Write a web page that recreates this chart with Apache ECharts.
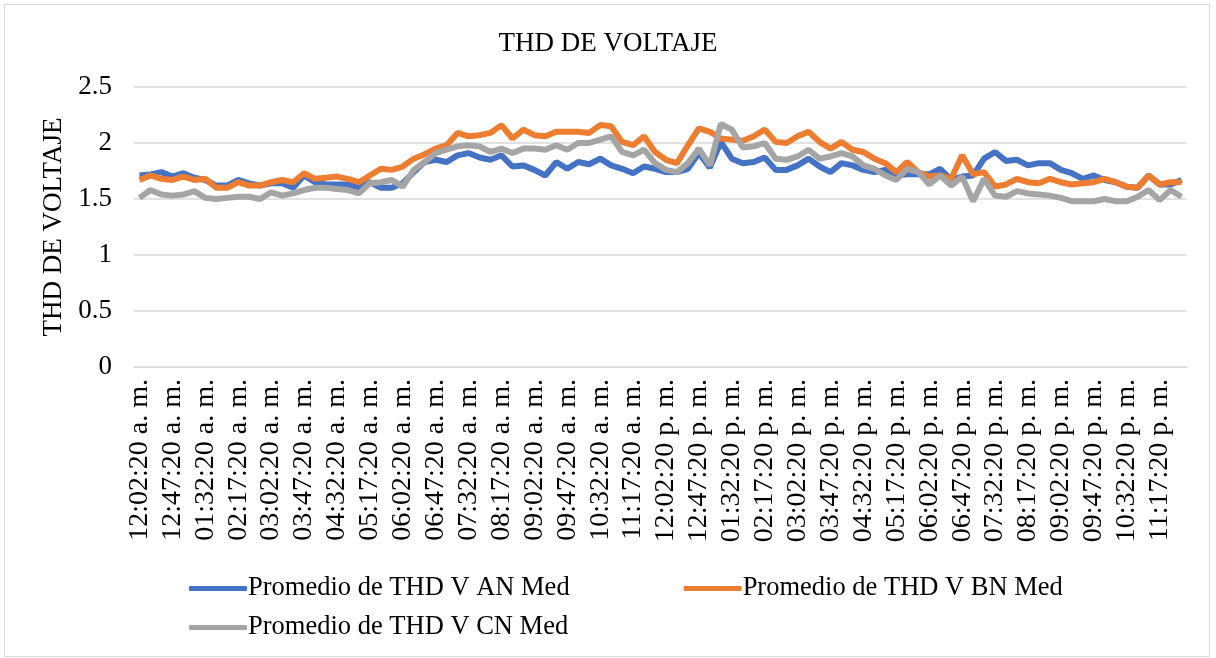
<!DOCTYPE html>
<html>
<head>
<meta charset="utf-8">
<title>THD DE VOLTAJE</title>
<script src="https://cdn.jsdelivr.net/npm/echarts@6/dist/echarts.min.js"></script>
<style>
  html, body { margin: 0; padding: 0; background: #fff; }
  #frame {
    position: absolute; left: 4px; top: 4px; width: 1204px; height: 651px;
    border: 1px solid #d9d9d9;
  }
  #chart { position: absolute; left: 0; top: 0; width: 1216px; height: 658px; }
</style>
</head>
<body>
<div id="frame"></div>
<div id="chart"></div>
<script>
// one reading every 15 minutes, starting 12:02:20 a. m.
const startMinutes = 2;
const stepMinutes = 15;
const pointCount = 96;

const seriesNames = [
  'Promedio de THD V AN Med',
  'Promedio de THD V BN Med',
  'Promedio de THD V CN Med'
];

const yTicks = [0, 0.5, 1, 1.5, 2, 2.5];

const thdAN = [
  1.71, 1.72, 1.74, 1.70, 1.73, 1.69, 1.67, 1.62, 1.62, 1.67, 1.64, 1.62, 1.64, 1.64, 1.60, 1.71, 1.65, 1.63, 1.63,
  1.63, 1.60, 1.65, 1.60, 1.60, 1.64, 1.74, 1.83, 1.85, 1.83, 1.89, 1.91, 1.87, 1.85, 1.89, 1.79, 1.80, 1.76, 1.71,
  1.83, 1.77, 1.83, 1.81, 1.86, 1.80, 1.77, 1.73, 1.79, 1.77, 1.74, 1.74, 1.77, 1.91, 1.78, 2.01, 1.86, 1.82, 1.83,
  1.87, 1.76, 1.76, 1.80, 1.86, 1.79, 1.74, 1.82, 1.80, 1.76, 1.74, 1.76, 1.71, 1.72, 1.72, 1.72, 1.77, 1.67, 1.70, 1.71,
  1.86, 1.92, 1.84, 1.85, 1.80, 1.82, 1.82, 1.76, 1.73, 1.68, 1.71, 1.67, 1.65, 1.61, 1.60, 1.71, 1.63, 1.63, 1.67
];

const thdBN = [
  1.67, 1.71, 1.68, 1.67, 1.70, 1.67, 1.68, 1.60, 1.60, 1.65, 1.62, 1.62, 1.65, 1.67, 1.65, 1.73, 1.68, 1.69, 1.70,
  1.68, 1.65, 1.71, 1.77, 1.76, 1.79, 1.86, 1.90, 1.95, 1.98, 2.09, 2.06, 2.07, 2.09, 2.16, 2.04, 2.12, 2.07, 2.06,
  2.10, 2.10, 2.10, 2.09, 2.16, 2.15, 2.01, 1.98, 2.06, 1.92, 1.85, 1.82, 1.98, 2.13, 2.10, 2.04, 2.03, 2.02, 2.06,
  2.12, 2.01, 2.00, 2.06, 2.10, 2.01, 1.95, 2.01, 1.94, 1.92, 1.86, 1.82, 1.74, 1.83, 1.74, 1.70, 1.71, 1.68, 1.89, 1.72,
  1.74, 1.61, 1.63, 1.68, 1.65, 1.64, 1.68, 1.65, 1.63, 1.64, 1.65, 1.68, 1.65, 1.61, 1.60, 1.71, 1.63, 1.65, 1.65
];

const thdCN = [
  1.51, 1.58, 1.54, 1.53, 1.54, 1.57, 1.51, 1.50, 1.51, 1.52, 1.52, 1.50, 1.56, 1.53, 1.55, 1.58, 1.60, 1.60, 1.59,
  1.58, 1.55, 1.64, 1.65, 1.67, 1.61, 1.76, 1.83, 1.91, 1.94, 1.97, 1.98, 1.97, 1.92, 1.95, 1.91, 1.95, 1.95, 1.94,
  1.98, 1.94, 2.00, 2.00, 2.03, 2.06, 1.92, 1.89, 1.94, 1.82, 1.76, 1.74, 1.82, 1.95, 1.80, 2.17, 2.12, 1.96, 1.97,
  2.00, 1.86, 1.85, 1.88, 1.94, 1.86, 1.88, 1.91, 1.88, 1.80, 1.77, 1.71, 1.67, 1.77, 1.74, 1.63, 1.71, 1.62, 1.70, 1.48,
  1.68, 1.53, 1.52, 1.57, 1.55, 1.54, 1.53, 1.51, 1.48, 1.48, 1.48, 1.50, 1.48, 1.48, 1.52, 1.58, 1.49, 1.58, 1.52
];

const colors = ['#4472C4', '#ED7D31', '#A5A5A5'];

// "12:02:20 a. m." style labels
const timeLabels = [];
for (let i = 0; i < pointCount; i++) {
  const total = startMinutes + i * stepMinutes;
  const h24 = Math.floor(total / 60);
  const m = total % 60;
  let h12 = h24 % 12;
  if (h12 === 0) h12 = 12;
  const pad = (n) => String(n).padStart(2, '0');
  timeLabels.push(pad(h12) + ':' + pad(m) + ':20 ' + (h24 < 12 ? 'a. m.' : 'p. m.'));
}

const font = '"Liberation Serif", "Times New Roman", serif';
const textColor = '#000';

const chart = echarts.init(document.getElementById('chart'));

const option = {
  animation: false,
  color: colors,
  title: {
    text: 'THD DE VOLTAJE',
    left: 'center',
    top: 25,
    textStyle: { fontFamily: font, fontSize: 27, fontWeight: 'normal', color: textColor }
  },
  legend: [
    {
      data: [seriesNames[0], seriesNames[1]],
      left: 184,
      top: 570,
      itemWidth: 58,
      itemHeight: 5,
      itemGap: 114,
      icon: 'roundRect',
      textStyle: { fontFamily: font, fontSize: 26.5, color: textColor, padding: [0, 0, 0, -4] }
    },
    {
      data: [seriesNames[2]],
      left: 184,
      top: 609,
      itemWidth: 58,
      itemHeight: 5,
      icon: 'roundRect',
      textStyle: { fontFamily: font, fontSize: 26.5, color: textColor, padding: [0, 0, 0, -4] }
    }
  ],
  grid: { left: 134, right: 29, top: 87, bottom: 291 },
  xAxis: {
    type: 'category',
    data: timeLabels,
    boundaryGap: true,
    axisLine: { lineStyle: { color: '#d9d9d9', width: 1 } },
    axisTick: { show: false },
    axisLabel: {
      interval: 2,
      rotate: 90,
      margin: 12,
      fontFamily: font,
      fontSize: 28,
      color: textColor
    }
  },
  yAxis: {
    type: 'value',
    min: yTicks[0],
    max: yTicks[yTicks.length - 1],
    interval: 0.5,
    name: 'THD DE VOLTAJE',
    nameLocation: 'middle',
    nameGap: 56,
    nameTextStyle: { fontFamily: font, fontSize: 27, color: textColor },
    axisLine: { show: false },
    axisTick: { show: false },
    splitLine: { lineStyle: { color: '#d9d9d9', width: 1.5 } },
    axisLabel: { fontFamily: font, fontSize: 27, color: textColor, margin: 22 }
  },
  series: [
    { name: seriesNames[0], type: 'line', data: thdAN, showSymbol: false, lineStyle: { width: 6 } },
    { name: seriesNames[1], type: 'line', data: thdBN, showSymbol: false, lineStyle: { width: 6 } },
    { name: seriesNames[2], type: 'line', data: thdCN, showSymbol: false, lineStyle: { width: 6 } }
  ]
};

chart.setOption(option);
window.addEventListener('resize', () => chart.resize());
</script>
</body>
</html>
